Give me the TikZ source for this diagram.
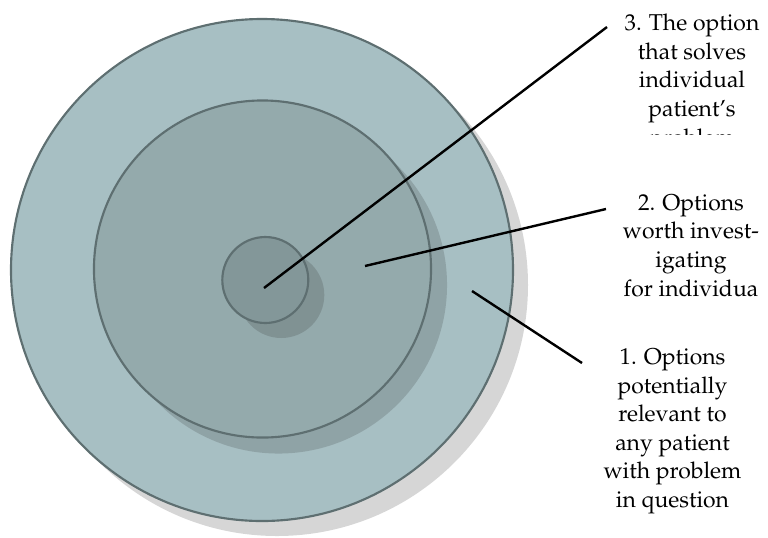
\documentclass[tikz,border=0pt]{standalone}
\usepackage[T1]{fontenc}
\renewcommand{\rmdefault}{ppl}
\usetikzlibrary{calc}
\definecolor{ringA}{HTML}{A7BFC3}
\definecolor{ringB}{HTML}{94AAAC}
\definecolor{ringC}{HTML}{839799}
\definecolor{ringedge}{HTML}{5E6F71}
\tikzset{
  ring/.style={circle, draw=ringedge, line width=1.6pt, inner sep=0pt},
  shade/.style={fill=black!80, fill opacity=0.2},
  leader/.style={draw=black, line width=1.8pt},
  lbl/.style={align=center, inner sep=0pt, font=\fontsize{17.2pt}{21.4pt}\selectfont, anchor=base}
}
\begin{document}
\begin{tikzpicture}[x=0.75pt,y=-0.75pt]
\useasboundingbox (0,0) rectangle (768,537);
% centres
\coordinate (oc) at (262,270);
\coordinate (mc) at (262.5,269);
\coordinate (ic) at (265.3,280);
% outer ring
\fill[shade] ($(oc)+(15,15)$) circle (188.25pt);
\node[ring, fill=ringA, minimum size=376.5pt] (outer) at (oc) {};
% middle ring
\fill[shade] ($(mc)+(16,16)$) circle (126.4pt);
\node[ring, fill=ringB, minimum size=252.8pt] (middle) at (mc) {};
% inner ring
\fill[shade] ($(ic)+(16,15)$) circle (32.25pt);
\node[ring, fill=ringC, minimum size=64.5pt] (inner) at (ic) {};
% labels (anchor base = baseline of the last line)
\begin{scope}
\clip (560,0) rectangle (768,134.5);
\node[lbl] (t3) at (692,145) {3. The option\\that solves\\individual\\patient's\\problem};
\end{scope}
\node[lbl] (t2) at (691,296) {2. Options\\worth invest-\\igating\\for individua};
\node[lbl] (t1) at (672.5,507.5) {1. Options\\potentially\\relevant to\\any patient\\with problem\\in question};
% leader lines
\coordinate (a3) at (264,288); \coordinate (b3) at (607,27);
\coordinate (a2) at (365,266); \coordinate (b2) at (606,209);
\coordinate (a1) at (472,291); \coordinate (b1) at (582,363);
\draw[leader] (a3) -- (b3);
\draw[leader] (a2) -- (b2);
\draw[leader] (a1) -- (b1);
\end{tikzpicture}
\end{document}
